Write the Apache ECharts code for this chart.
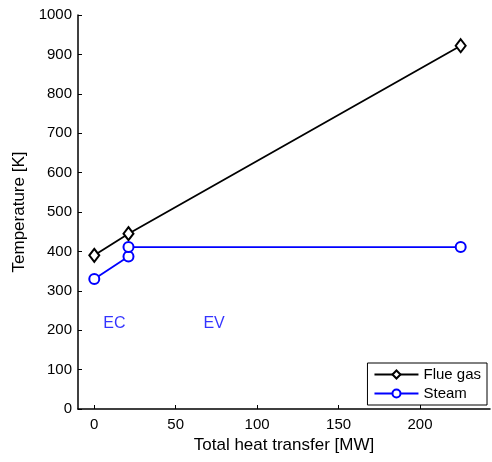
<!DOCTYPE html>
<html>
<head>
<meta charset="utf-8">
<script src="https://cdn.jsdelivr.net/npm/echarts@6/dist/echarts.min.js"></script>
<style>
  html, body { margin: 0; padding: 0; background: #fff; }
  #chart { width: 492px; height: 462px; }
</style>
</head>
<body>
<div id="chart"></div>
<script>
// datos
const flueGasX = [0, 21, 225];
const flueGasY = [390, 445, 922];
const steamX = [0, 21, 21, 225];
const steamY = [330, 387, 411, 411];
const xTicks = [0, 50, 100, 150, 200];
const zoneLabels = ['EC', 'EV'];
const zoneX = [5.5, 67];
const zoneY = [218, 218];

const FONT = 'Liberation Sans, Arial, sans-serif';

const chart = echarts.init(document.getElementById('chart'));

const pairs = (xs, ys) => xs.map((x, i) => [x, ys[i]]);

const option = {
  animation: false,
  backgroundColor: '#fff',
  textStyle: { fontFamily: FONT },
  grid: { left: 78, right: 2, top: 15, bottom: 53 },
  xAxis: {
    type: 'value',
    min: -10,
    max: 243,
    name: 'Total heat transfer [MW]',
    nameLocation: 'middle',
    nameGap: 24,
    nameTextStyle: { fontSize: 17, color: '#000', fontFamily: FONT },
    axisLine: { onZero: false, lineStyle: { color: '#000', width: 1.5 } },
    axisTick: { inside: true, length: 4, customValues: xTicks, lineStyle: { color: '#000' } },
    axisLabel: { customValues: xTicks, fontSize: 15, color: '#000', margin: 8, fontFamily: FONT },
    splitLine: { show: false }
  },
  yAxis: {
    type: 'value',
    min: 0,
    max: 1000,
    interval: 100,
    name: 'Temperature [K]',
    nameLocation: 'middle',
    nameGap: 50,
    nameTextStyle: { fontSize: 17, color: '#000', fontFamily: FONT },
    axisLine: { show: true, onZero: false, lineStyle: { color: '#000', width: 1.5 } },
    axisTick: { show: true, inside: true, length: 4, lineStyle: { color: '#000' } },
    axisLabel: { fontSize: 15, color: '#000', margin: 6, fontFamily: FONT, formatter: v => String(v) },
    splitLine: { show: false }
  },
  legend: {
    right: 5,
    bottom: 57,
    orient: 'vertical',
    backgroundColor: '#fff',
    borderColor: '#000',
    borderWidth: 1,
    borderRadius: 0,
    padding: [4, 6, 4, 6],
    itemGap: 4,
    itemWidth: 44,
    itemHeight: 10,
    textStyle: { fontSize: 15, color: '#000', fontFamily: FONT },
    data: ['Flue gas', 'Steam']
  },
  series: [
    {
      name: 'Flue gas',
      type: 'line',
      data: pairs(flueGasX, flueGasY),
      color: '#000',
      lineStyle: { color: '#000', width: 1.8 },
      symbol: 'diamond',
      symbolSize: [10, 13],
      itemStyle: { color: '#fff', borderColor: '#000', borderWidth: 2 },
      showAllSymbol: true
    },
    {
      name: 'Steam',
      type: 'line',
      data: pairs(steamX, steamY),
      color: '#0000ff',
      lineStyle: { color: '#0000ff', width: 1.8 },
      symbol: 'circle',
      symbolSize: 10,
      itemStyle: { color: '#fff', borderColor: '#0000ff', borderWidth: 2 },
      showAllSymbol: true
    },
    {
      name: 'zonas',
      type: 'scatter',
      symbolSize: 0,
      data: zoneLabels.map((t, i) => ({ value: [zoneX[i], zoneY[i]], name: t })),
      label: {
        show: true,
        position: 'right',
        distance: 0,
        formatter: p => p.name,
        color: '#0000ff',
        fontSize: 16,
        fontFamily: FONT
      },
      silent: true
    }
  ]
};

chart.setOption(option);
</script>
</body>
</html>
